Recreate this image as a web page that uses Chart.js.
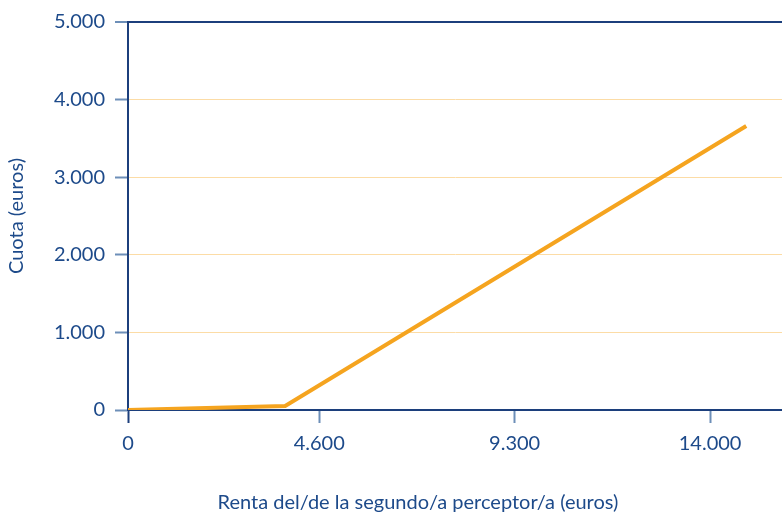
<!DOCTYPE html>
<html lang="es">
<head>
<meta charset="utf-8">
<script src="https://cdn.jsdelivr.net/npm/chart.js@4"></script>
<style>
  body { margin: 0; background: #fff; }
  #contenedor { position: relative; width: 782px; height: 516px; }
  #tituloX {
    position: absolute; left: 0; width: 836px; top: 489px;
    text-align: center; font: 20px Lato, sans-serif; color: #1d4a8a;
  }
</style>
</head>
<body>
<div id="contenedor">
  <canvas id="meuGrafico" width="782" height="516"></canvas>
  <div id="tituloX">Renta del/de la segundo/a perceptor/a (euros)</div>
</div>
<script>
// renta del segundo perceptor (euros) y cuota resultante (euros)
const renta = [0, 3780, 14870];
const cuota = [0, 52, 3660];
const ticksX = [0, 4600, 9300, 14000];
const ticksY = [0, 1000, 2000, 3000, 4000, 5000];

const azul = "#1c3f7c";
const azulTexto = "#1d4a8a";
const azulTick = "#6d8fb8";

function formatarMiles(valor) {
  return valor.toString().replace(/\B(?=(\d{3})+(?!\d))/g, ".");
}

function configurarGrafico() {
  const puntos = renta.map((x, i) => ({ x: x, y: cuota[i] }));
  const ctx = document.getElementById("meuGrafico").getContext("2d");
  new Chart(ctx, {
    type: "line",
    data: {
      datasets: [
        {
          data: puntos,
          borderColor: "#f5a41f",
          borderWidth: 4,
          pointRadius: 0,
          tension: 0,
        },
      ],
    },
    options: {
      responsive: false,
      animation: false,
      layout: { padding: { top: 22, right: 0, left: 0, bottom: 0 } },
      plugins: { legend: { display: false }, tooltip: { enabled: false } },
      scales: {
        x: {
          type: "linear",
          min: 0,
          max: 15730,
          afterBuildTicks: (scale) => {
            scale.ticks = ticksX.map((v) => ({ value: v }));
          },
          afterFit: (scale) => {
            scale.height = 106;
          },
          border: { color: azul, width: 2 },
          grid: {
            drawOnChartArea: false,
            tickLength: 13,
            tickWidth: 2,
            tickColor: (c) => (c.tick && c.tick.value === 0 ? azul : azulTick),
          },
          ticks: {
            color: azulTexto,
            font: { family: "Lato", size: 20 },
            padding: 9,
            callback: (v) => formatarMiles(v),
          },
        },
        y: {
          min: 0,
          max: 5000,
          afterBuildTicks: (scale) => {
            scale.ticks = ticksY.map((v) => ({ value: v }));
          },
          afterFit: (scale) => {
            scale.width = 128;
          },
          border: { color: azul, width: 2 },
          grid: {
            color: (c) => (c.tick && c.tick.value === 5000 ? azul : "#fcdca6"),
            lineWidth: (c) => (c.tick && c.tick.value === 5000 ? 2 : 1),
            tickLength: 13,
            tickWidth: 2,
            tickColor: azulTick,
          },
          ticks: {
            color: azulTexto,
            font: { family: "Lato", size: 20 },
            padding: 10,
            callback: (v) => formatarMiles(v),
          },
          title: {
            display: true,
            text: "Cuota (euros)",
            color: azulTexto,
            font: { family: "Lato", size: 20 },
            padding: { top: 5, bottom: 0 },
          },
        },
      },
    },
  });
}

configurarGrafico();
</script>
</body>
</html>
